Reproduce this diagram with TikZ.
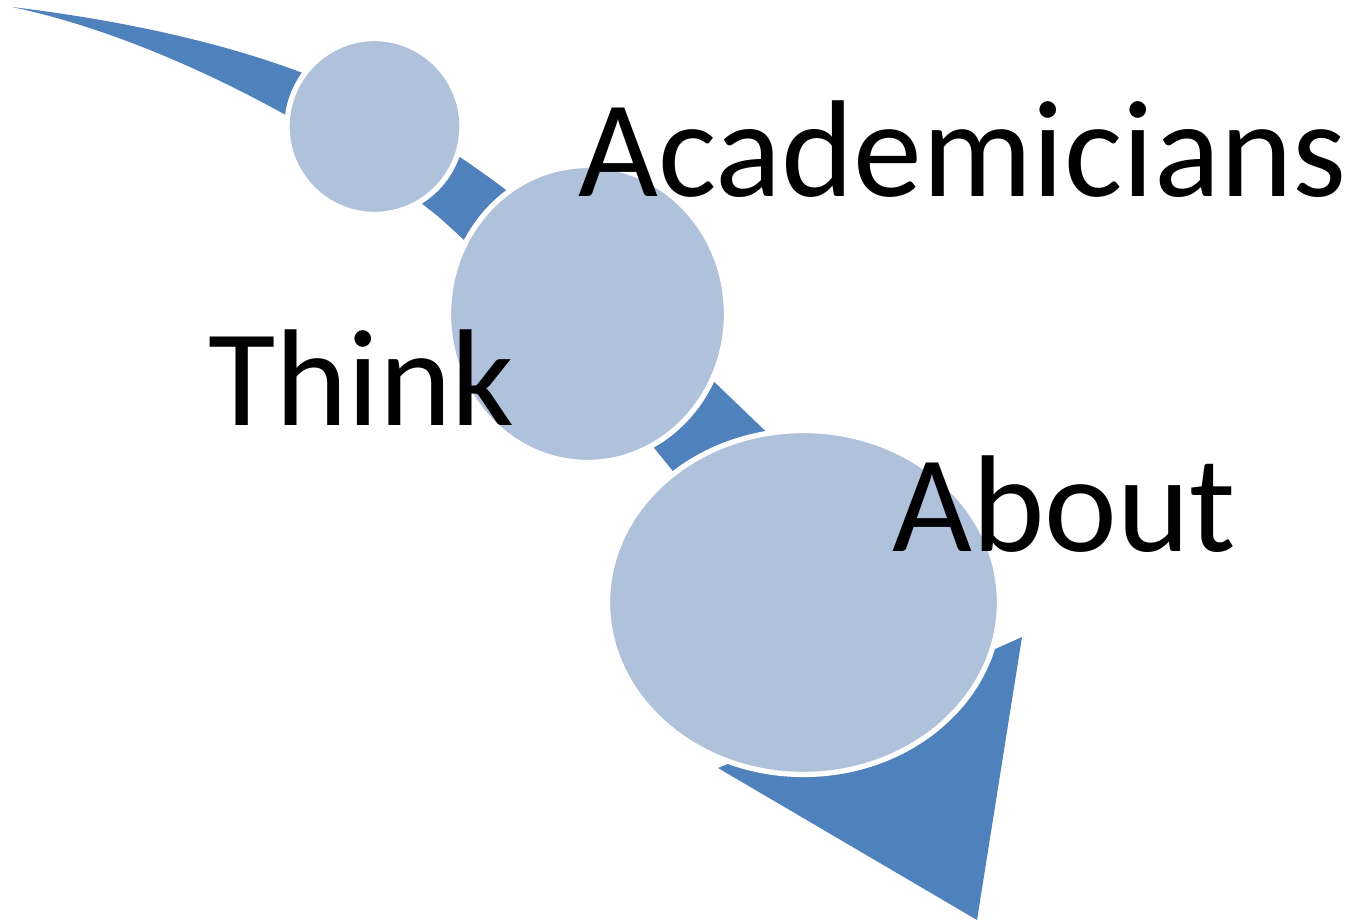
\documentclass[tikz,border=0pt]{standalone}
\usepackage{fontspec}
\setmainfont{Carlito}
\usetikzlibrary{shapes.geometric}

\definecolor{shaftblue}{RGB}{79,129,189}
\definecolor{ballblue}{RGB}{176,193,220}

\tikzset{
	ball/.style={ellipse, fill=ballblue, draw=white, line width=3pt, inner sep=0pt},
	word/.style={anchor=base west, inner sep=0pt, font=\fontsize{78.5}{78.5}\selectfont}
}

\begin{document}
\begin{tikzpicture}[x=0.02cm, y=-0.02cm]

	\useasboundingbox (0,0) rectangle (1360,922);

	\fill[shaftblue] (12,7) .. controls (120,20) and (220,42) .. (300,72)
		.. controls (400,110) and (520,190) .. (600,272)
		-- (993,650) -- (1022,637) -- (977,920) -- (718,768) -- (730,763)
		-- (680,480) .. controls (600,380) and (520,290) .. (440,218)
		.. controls (335,132) and (160,38) .. (12,7) -- cycle;

	\node[ball, minimum width=3.5cm, minimum height=3.52cm] (c1) at (374.5,126.5) {};
	\node[ball, minimum width=5.56cm, minimum height=5.94cm] (c2) at (587.5,314) {};
	\node[ball, minimum width=7.84cm, minimum height=6.88cm] (c3) at (803.5,602.5) {};

	\node[word] (w1) at (578,197) {Academicians};
	\node[word] (w2) at (208,425) {Think};
	\node[word] (w3) at (892,551) {About};

\end{tikzpicture}
\end{document}
